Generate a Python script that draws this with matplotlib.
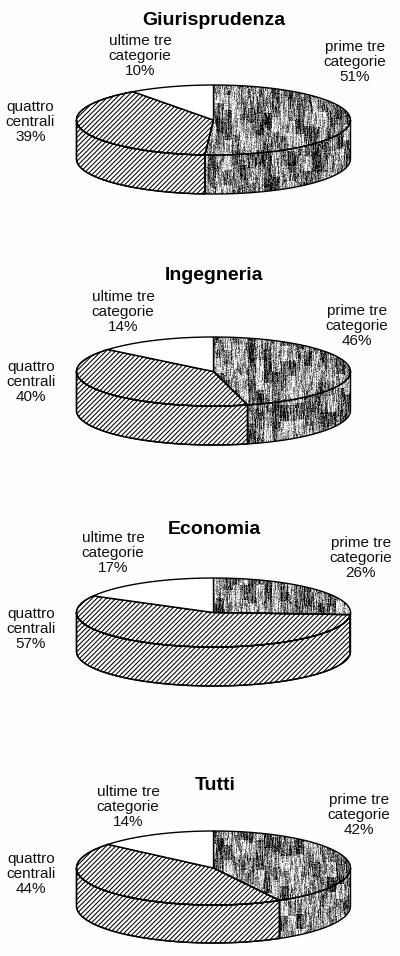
import numpy as np
import matplotlib
matplotlib.use('Agg')
import matplotlib.pyplot as plt
from matplotlib.patches import Polygon

plt.rcParams['font.family'] = ['Liberation Sans', 'DejaVu Sans']
plt.rcParams['hatch.linewidth'] = 0.75

# dati
titoli = ['Giurisprudenza', 'Ingegneria', 'Economia', 'Tutti']
prime_tre = [51, 46, 26, 42]
quattro_centrali = [39, 40, 57, 44]
ultime_tre = [10, 14, 17, 14]

# layout in pixel (l'asse copre tutta la figura)
centri_y = [120, 371.5, 612.5, 868]
raggi_y = [35, 34.5, 34.5, 37]
spessori = [39, 39, 39, 38]
centro_x = 213.5
raggio_x = 137
pos_titoli = [(214, 20), (214, 276), (214, 530), (215, 785)]
pos_prime = [(355, 62), (357, 326), (361, 558), (359, 815)]
pos_quattro = [(30.5, 122), (31, 382), (31, 629), (31, 874)]
pos_ultime = [(140, 56), (123, 312), (113, 553), (128, 807)]


def rumore(a, b):
    v = np.sin(a * 12.9898 + b * 78.233) * 43758.5453
    return v - np.floor(v)


def trama(xmin, xmax, ymin, ymax):
    # retino scuro a righe verticali: solo riempimento, non sono dati
    xx, yy = np.meshgrid(np.arange(xmin, xmax), np.arange(ymin, ymax))
    sfasa = np.floor(rumore(xx * 1.0, 5.0) * 30)
    fine = rumore(xx * 1.0, yy * 1.0)
    colonne = rumore(xx * 1.0, (yy + sfasa) // 9 * 1.0)
    sfasa2 = np.floor(rumore(xx // 8 * 1.0, 2.0) * 20)
    macchie = rumore(xx // 8 + 3.0, (yy + sfasa2) // 15 + 9.0)
    return 0.50 + 0.50 * (fine - 0.5) + 0.60 * (colonne - 0.5) + 0.55 * (macchie - 0.5)


def arco(cy, ry, da, a):
    # angoli in gradi, da mezzogiorno in senso orario
    t = np.radians(np.linspace(da, a, 200))
    return np.column_stack([centro_x + raggio_x * np.sin(t), cy - ry * np.cos(t)])


def riempi_scuro(ax, punti):
    patch = Polygon(punti, closed=True, facecolor='none', edgecolor='none')
    ax.add_patch(patch)
    x0, y0 = np.floor(punti.min(axis=0)).astype(int)
    x1, y1 = np.ceil(punti.max(axis=0)).astype(int)
    img = ax.imshow(trama(x0, x1, y0, y1), cmap='gray', vmin=0, vmax=1,
                    extent=(x0, x1, y1, y0), aspect='auto', interpolation='nearest',
                    zorder=1)
    img.set_clip_path(patch)
    ax.add_patch(Polygon(punti, closed=True, facecolor='none', edgecolor='black',
                         linewidth=1.0, zorder=3))


def riempi_righe(ax, punti):
    ax.add_patch(Polygon(punti, closed=True, facecolor='white', edgecolor='black',
                         hatch='///////', linewidth=1.0, zorder=2))
    ax.add_patch(Polygon(punti, closed=True, facecolor='none', edgecolor='black',
                         linewidth=1.0, zorder=3))


fig = plt.figure(figsize=(4.0, 9.56), dpi=100, facecolor='#fefefe')
ax = fig.add_axes([0, 0, 1, 1])

for i in range(len(titoli)):
    cy = centri_y[i]
    ry = raggi_y[i]
    sp = spessori[i]
    fine1 = prime_tre[i] * 3.6
    fine2 = fine1 + quattro_centrali[i] * 3.6
    centro = np.array([[centro_x, cy]])

    # fianco del cilindro: solo la parte davanti (da 90 a 270 gradi)
    if fine1 > 90:
        sopra = arco(cy, ry, 90, fine1)
        sotto = arco(cy + sp, ry, fine1, 90)
        riempi_scuro(ax, np.vstack([sopra, sotto]))
    inizio = max(fine1, 90)
    sopra = arco(cy, ry, inizio, 270)
    sotto = arco(cy + sp, ry, 270, inizio)
    riempi_righe(ax, np.vstack([sopra, sotto]))

    # faccia superiore
    riempi_scuro(ax, np.vstack([centro, arco(cy, ry, 0, fine1)]))
    riempi_righe(ax, np.vstack([centro, arco(cy, ry, fine1, fine2)]))
    ax.add_patch(Polygon(np.vstack([centro, arco(cy, ry, fine2, 360)]), closed=True,
                         facecolor='white', edgecolor='black', linewidth=1.0, zorder=3))

    # testi
    opz = dict(ha='center', va='center', fontsize=11, linespacing=1.1, color='#111111', zorder=5)
    ax.text(pos_titoli[i][0], pos_titoli[i][1], titoli[i], ha='center', va='center',
            fontsize=14, fontweight='bold', color='black', zorder=5)
    ax.text(pos_prime[i][0], pos_prime[i][1], f'prime tre\ncategorie\n{prime_tre[i]}%', **opz)
    ax.text(pos_quattro[i][0], pos_quattro[i][1], f'quattro\ncentrali\n{quattro_centrali[i]}%', **opz)
    ax.text(pos_ultime[i][0], pos_ultime[i][1], f'ultime tre\ncategorie\n{ultime_tre[i]}%', **opz)

ax.set_xlim(0, 400)
ax.set_ylim(956, 0)
ax.axis('off')

fig.savefig('out.png', dpi=100, facecolor=fig.get_facecolor())
